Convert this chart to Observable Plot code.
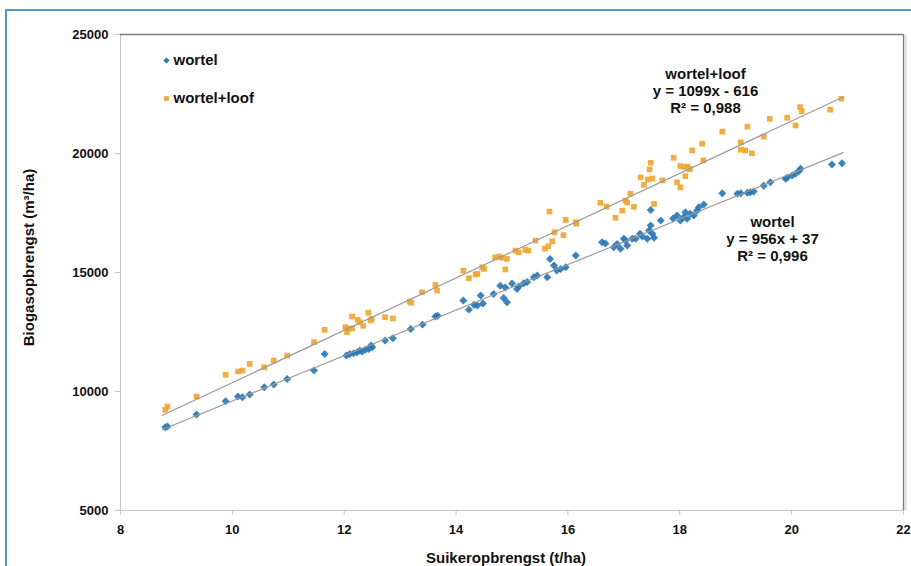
<!DOCTYPE html>
<html>
<head>
<meta charset="utf-8">
<script src="https://cdn.jsdelivr.net/npm/d3@7"></script>
<script src="https://cdn.jsdelivr.net/npm/@observablehq/plot@0.6"></script>
<style>
  html, body { margin: 0; padding: 0; background: #ffffff; }
  #wrap { position: relative; width: 911px; height: 566px; overflow: hidden; }
  #wrap svg { position: absolute; left: 0; top: 0; }
  #border { position: absolute; left: 5px; top: 9px; right: -4px; bottom: -4px;
            border-top: 2px solid #4b95d3; border-left: 2px solid #4b95d3;
            pointer-events: none; z-index: 2; }
</style>
</head>
<body>
<div id="wrap"><div id="border"></div></div>
<script>
// Axis ticks
const xTicks = [8, 10, 12, 14, 16, 18, 20, 22];
const yTicks = [5000, 10000, 15000, 20000, 25000];

// Series: wortel (blue diamonds)
const wortelX = [8.80, 8.84, 9.36, 9.88, 10.10, 10.18, 10.31, 10.57, 10.74, 10.98, 11.46, 11.65, 12.04, 12.10,
  12.17, 12.23, 12.28, 12.32, 12.38, 12.44, 12.48, 12.50, 12.73, 12.87, 13.19, 13.40, 13.63, 13.67,
  14.13, 14.23, 14.32, 14.38, 14.44, 14.48, 14.67, 14.79, 14.85, 14.88, 14.91, 15.00, 15.09, 15.12, 15.21, 15.27,
  15.39, 15.45, 15.63, 15.68, 15.75, 15.80, 15.87, 15.96, 16.14,
  16.61, 16.67, 16.82, 16.88, 16.94, 17.00, 17.03, 17.06, 17.15, 17.21, 17.29, 17.33, 17.42, 17.45, 17.48, 17.51, 17.54, 17.48,
  17.66, 17.88, 17.95, 18.01, 18.07, 18.10, 18.13, 18.19, 18.25, 18.31, 18.34, 18.43,
  18.76, 19.03, 19.09, 19.21, 19.26, 19.32, 19.50, 19.62, 19.89, 19.92, 20.01, 20.07, 20.13, 20.16, 20.72, 20.90];
const wortelY = [8500, 8530, 9030, 9590, 9790, 9760, 9870, 10180, 10290, 10530, 10880, 11580, 11510, 11580,
  11610, 11650, 11720, 11680, 11750, 11790, 11930, 11860, 12140, 12240, 12630, 12810, 13150, 13180,
  13820, 13440, 13650, 13610, 14030, 13700, 14100, 14440, 13930, 14370, 13750, 14540, 14310, 14410, 14550, 14600,
  14800, 14870, 14800, 15570, 15290, 15080, 15150, 15220, 15710,
  16270, 16220, 16060, 16200, 16000, 16420, 16340, 16130, 16420, 16420, 16630, 16510, 16420, 16760, 16970, 16630, 16460, 17630,
  17180, 17270, 17390, 17180, 17320, 17530, 17260, 17470, 17390, 17600, 17740, 17860,
  18330, 18310, 18330, 18350, 18370, 18400, 18650, 18790, 18940, 18980, 19080, 19150, 19260, 19360, 19540, 19590];

// Series: wortel+loof (orange squares)
const loofX = [8.80, 8.84, 9.36, 9.88, 10.10, 10.18, 10.31, 10.57, 10.74, 10.98, 11.46, 11.65, 12.02, 12.08,
  12.05, 12.14, 12.14, 12.24, 12.28, 12.34, 12.43, 12.47, 12.49, 12.73, 12.87, 13.17, 13.20, 13.39, 13.63, 13.66,
  14.13, 14.23, 14.35, 14.38, 14.47, 14.50, 14.70, 14.78, 14.82, 14.88, 14.91, 15.06, 15.12, 15.24, 15.29, 15.42,
  15.59, 15.65, 15.72, 15.76, 15.67, 15.92, 15.96, 16.14, 16.15, 16.58, 16.69, 16.85, 16.97, 17.03, 17.06, 17.12,
  17.18, 17.30, 17.36, 17.43, 17.46, 17.48, 17.51, 17.54, 17.69, 17.89, 17.95, 18.01, 18.01, 18.07, 18.10, 18.14,
  18.18, 18.22, 18.40, 18.42, 18.76, 19.09, 19.09, 19.17, 19.21, 19.29, 19.50, 19.61, 19.92, 20.07, 20.15, 20.18,
  20.69, 20.89];
const loofY = [9230, 9370, 9790, 10700, 10840, 10880, 11160, 11020, 11300, 11510, 12070, 12590, 12700, 12630,
  12490, 12650, 13150, 13010, 12910, 12760, 13310, 12980, 13050, 13120, 13070, 13780, 13730, 14170, 14480, 14240,
  15080, 14760, 14920, 14940, 15220, 15150, 15640, 15670, 15620, 15130, 15570, 15920, 15850, 15950, 15920, 16340,
  16000, 16100, 16310, 16690, 17560, 16570, 17210, 17110, 17050, 17930, 17770, 17300, 17600, 18020, 17940, 18310,
  17760, 19000, 18680, 18910, 19330, 19610, 18950, 17880, 18870, 19820, 18790, 18580, 19470, 19440, 19050, 19450,
  19340, 20130, 20410, 19710, 20920, 20470, 20160, 20130, 21130, 20010, 20710, 21460, 21500, 21180, 21950, 21780,
  21840, 22300];

// Trendlines (from the chart's equations)
const fitNames = ["wortel", "wortel+loof"];
const fitSlopes = [956, 1099];
const fitIntercepts = [37, -616];
const fitRange = [8.75, 20.92];
const fitR2 = ["0,996", "0,988"];

const colors = {"wortel": "#2878ba", "wortel+loof": "#f2a52c"};

const wortel = wortelX.map((x, i) => ({x, y: wortelY[i]}));
const loof = loofX.map((x, i) => ({x, y: loofY[i]}));
const fitLines = fitNames.flatMap((name, k) => fitRange.map(x => ({name, x, y: fitSlopes[k] * x + fitIntercepts[k]})));
const fmtEq = k => `${fitNames[k]}\ny = ${fitSlopes[k]}x ${fitIntercepts[k] < 0 ? "-" : "+"} ${Math.abs(fitIntercepts[k])}\nR² = ${fitR2[k]}`;

const font = "'Liberation Sans', Arial, Helvetica, sans-serif";

const chart = Plot.plot({
  width: 911,
  height: 566,
  marginLeft: 120,
  marginRight: 8,
  marginTop: 34,
  marginBottom: 56,
  style: {fontFamily: font, fontWeight: "bold", fontSize: "13px", background: "white", color: "#111"},
  x: {domain: [8, 22], ticks: xTicks},
  y: {domain: [5000, 25000], ticks: yTicks},
  marks: [
    // plot area border
    Plot.ruleY([5000], {stroke: "#c4c4c4", strokeWidth: 1}),
    Plot.ruleX([8], {stroke: "#c4c4c4", strokeWidth: 1}),
    Plot.ruleX([22], {stroke: "#dddddd", strokeWidth: 2, dx: 2, dy: 1}),
    Plot.ruleY([25000], {stroke: "#7d7d7d", strokeWidth: 1.3}),
    Plot.ruleX([22], {stroke: "#7d7d7d", strokeWidth: 1.3}),
    Plot.axisX({ticks: xTicks, tickSize: 5, tickPadding: 9, stroke: "#c4c4c4", fill: "#111", fontSize: 13, tickFormat: d => String(d), label: null}),
    Plot.axisY({ticks: yTicks, tickSize: 5, tickPadding: 7, stroke: "#c4c4c4", fill: "#111", fontSize: 13, tickFormat: d => String(d), label: null}),
    // axis titles
    Plot.text(["Suikeropbrengst (t/ha)"], {frameAnchor: "bottom", dx: -6, dy: 48, lineAnchor: "middle", textAnchor: "middle", fontSize: 15, fill: "#111"}),
    Plot.text(["Biogasopbrengst (m³/ha)"], {frameAnchor: "left", dx: -91, dy: -15, rotate: -90, lineAnchor: "middle", textAnchor: "middle", fontSize: 15, fill: "#111"}),
    // data
    Plot.dot(loof, {x: "x", y: "y", symbol: "square", r: 3.2, fill: colors["wortel+loof"], fillOpacity: 0.92}),
    Plot.dot(wortel, {x: "x", y: "y", symbol: "diamond2", r: 3.6, fill: colors["wortel"], fillOpacity: 0.92}),
    Plot.line(fitLines, {x: "x", y: "y", z: "name", stroke: "#9a9a9a", strokeWidth: 1.2}),
    // legend
    Plot.dot([fitNames[0]], {frameAnchor: "top-left", dx: 46, dy: 26, symbol: "diamond2", r: 2.8, fill: colors["wortel"]}),
    Plot.text([fitNames[0]], {frameAnchor: "top-left", dx: 53, dy: 26, textAnchor: "start", lineAnchor: "middle", fontSize: 15, fill: "#111"}),
    Plot.dot([fitNames[1]], {frameAnchor: "top-left", dx: 46, dy: 64, symbol: "square", r: 2.6, fill: colors["wortel+loof"]}),
    Plot.text([fitNames[1]], {frameAnchor: "top-left", dx: 53, dy: 64, textAnchor: "start", lineAnchor: "middle", fontSize: 15, fill: "#111"}),
    // equations
    Plot.text([fmtEq(1)], {frameAnchor: "top-left", dx: 585, dy: 56, textAnchor: "middle", lineAnchor: "middle", lineHeight: 1.13, fontSize: 15, fill: "#111"}),
    Plot.text([fmtEq(0)], {frameAnchor: "top-left", dx: 652, dy: 204, textAnchor: "middle", lineAnchor: "middle", lineHeight: 1.13, fontSize: 15, fill: "#111"})
  ]
});
document.getElementById("wrap").appendChild(chart);
</script>
</body>
</html>
